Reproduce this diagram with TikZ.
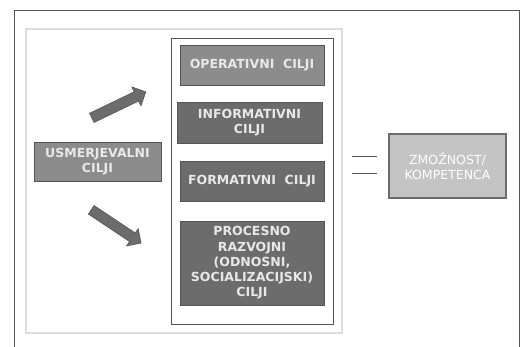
\documentclass[tikz,border=0pt]{standalone}
\usepackage{fontspec}
\setmainfont{DejaVu Sans}
\usepackage{tikz}
\usetikzlibrary{calc,shapes,arrows}
\usetikzlibrary{positioning}

\definecolor{frame}{HTML}{555555}
\definecolor{panel}{HTML}{DCDCDC}
\definecolor{midgray}{HTML}{8C8C8C}
\definecolor{darkgray}{HTML}{6C6C6C}
\definecolor{lightbox}{HTML}{C4C4C4}
\definecolor{txt}{HTML}{E8E8E8}

\tikzset{
	cilj/.style={draw=frame, line width=0.8pt, text=txt, font=\bfseries\fontsize{12.5}{15.2}\selectfont, align=center, inner sep=2pt},
	blockarrow/.style={single arrow, draw=frame, fill=darkgray, line width=0.6pt, minimum height=60pt, minimum width=21pt, single arrow head extend=5pt, inner sep=4.5pt}
}

\begin{document}
\begin{tikzpicture}[x=1pt,y=-1pt]
	
	\useasboundingbox[fill=white] (0,0) rectangle (522,347);
	\draw[frame, line width=0.8pt] (14,347)--(14,10)--(519,10)--(519,347);
	
	\draw[panel, line width=1.5pt] (26,29) rectangle (342,333);
	\draw[frame, line width=0.8pt] (171,38) rectangle (333,324);
	
	\node[cilj, fill=midgray, minimum width=144pt, minimum height=40pt] (oper) at (252,65) {OPERATIVNI~~CILJI};
	\node[cilj, fill=darkgray, minimum width=145pt, minimum height=41pt] (info) at (249.5,122.5) {INFORMATIVNI\\CILJI};
	\node[cilj, fill=darkgray, minimum width=144pt, minimum height=40pt] (form) at (252,181) {FORMATIVNI~~CILJI};
	\node[cilj, fill=darkgray, minimum width=144pt, minimum height=84pt] (proc) at (252,263) {PROCESNO\\RAZVOJNI\\(ODNOSNI,\\SOCIALIZACIJSKI)\\CILJI};
	
	\node[cilj, fill=midgray, minimum width=127pt, minimum height=39pt] (usm) at (97.5,161.5) {USMERJEVALNI\\CILJI};
	
	\node[blockarrow, rotate=25.7] (up) at (116.5,106) {};
	\node[blockarrow, rotate=-33.7] (down) at (114,225) {};
	
	% enakost
	\coordinate (eq1) at (352,157);
	\coordinate (eq2) at (352,174);
	\draw[frame, line width=1pt] (eq1)--++(25,0);
	\draw[frame, line width=1pt] (eq2)--++(25,0);
	
	\node[cilj, fill=lightbox, draw=darkgray, line width=2pt, font=\fontsize{12.5}{15.2}\selectfont, text=white, minimum width=117pt, minimum height=64pt] (zmoz) at (447.5,166) {ZMOŽNOST/\\KOMPETENCA};
	
\end{tikzpicture}
\end{document}
